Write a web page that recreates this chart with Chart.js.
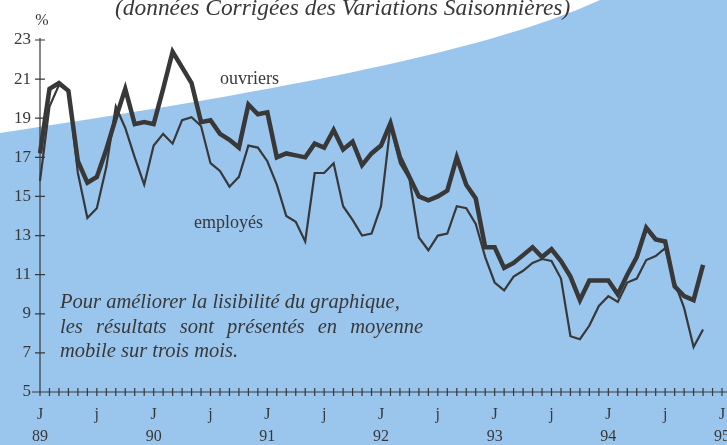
<!DOCTYPE html>
<html>
<head>
<meta charset="utf-8">
<script src="https://cdn.jsdelivr.net/npm/chart.js@4.4.1/dist/chart.umd.min.js"></script>
<style>
  html, body { margin: 0; padding: 0; background: #fff; }
</style>
</head>
<body>
<canvas id="chomage" width="727" height="445"></canvas>
<script>
// taux mensuels, janvier 1989 -> novembre 1994 (moyenne mobile sur trois mois)
var ouvriers = [
    17.2, 20.5, 20.8, 20.4, 16.8, 15.7, 16.0, 17.4, 19.0, 20.5, 18.7, 18.8,
    18.7, 20.5, 22.4, 21.6, 20.8, 18.8, 18.9, 18.2, 17.9, 17.5, 19.7, 19.2,
    19.3, 17.0, 17.2, 17.1, 17.0, 17.7, 17.5, 18.4, 17.4, 17.8, 16.6, 17.2,
    17.6, 18.75, 17.0, 16.0, 15.0, 14.8, 15.0, 15.3, 17.0, 15.6, 14.9, 12.4,
    12.4, 11.35, 11.6, 12.0, 12.4, 11.9, 12.3, 11.7, 10.9, 9.7, 10.7, 10.7,
    10.7, 10.0, 11.0, 11.9, 13.4, 12.8, 12.7, 10.4, 9.9, 9.7, 11.5
];
var employes = [
    15.8, 19.6, 20.7, 20.4, 16.2, 13.9, 14.4, 16.5, 19.6, 18.5, 17.0, 15.6,
    17.6, 18.2, 17.7, 18.9, 19.05, 18.6, 16.7, 16.3, 15.5, 16.0, 17.6, 17.5,
    16.8, 15.6, 14.0, 13.7, 12.7, 16.2, 16.2, 16.7, 14.5, 13.8, 13.0, 13.1,
    14.5, 18.65, 16.7, 15.9, 12.9, 12.25, 13.0, 13.1, 14.5, 14.4, 13.6, 11.9,
    10.6, 10.2, 10.9, 11.2, 11.6, 11.8, 11.7, 10.8, 7.85, 7.7, 8.4, 9.4,
    9.9, 9.6, 10.6, 10.8, 11.75, 11.95, 12.35, 10.6, 9.3, 7.3, 8.2
];
var years = ['89', '90', '91', '92', '93', '94', '95'];
var monthMarks = ['J', '', '', '', '', '', 'j', '', '', '', '', ''];
var yTicks = [5, 7, 9, 11, 13, 15, 17, 19, 21, 23];

// categories: un mois par case, de J 89 jusqu'a J 95
var categories = [];
for (var y = 0; y < years.length; y++) {
    for (var m = 0; m < 12; m++) {
        categories.push({ mark: monthMarks[m], year: m === 0 ? years[y] : '' });
        if (y === years.length - 1) break;
    }
}

var ink = '#383838';
var serif = '"Liberation Serif", "DejaVu Serif", serif';

const decor = {
    id: 'decor',
    beforeDraw(chart) {
        const ctx = chart.ctx;
        ctx.save();
        ctx.fillStyle = '#fff';
        ctx.fillRect(0, 0, chart.width, chart.height);
        // zone bleue
        ctx.fillStyle = '#9ac6ee';
        ctx.beginPath();
        ctx.moveTo(0, 133);
        ctx.bezierCurveTo(250, 95, 480, 55, 600, 0);
        ctx.lineTo(chart.width, 0);
        ctx.lineTo(chart.width, chart.height);
        ctx.lineTo(0, chart.height);
        ctx.closePath();
        ctx.fill();

        // titre (coupe en haut)
        ctx.fillStyle = ink;
        ctx.font = 'italic 20px ' + serif;
        var t = '(données Corrigées des Variations Saisonnières)';
        var size = 20 * 455 / ctx.measureText(t).width;
        ctx.font = 'italic ' + size.toFixed(1) + 'px ' + serif;
        ctx.textAlign = 'left';
        ctx.textBaseline = 'alphabetic';
        ctx.fillText(t, 115, 15);

        ctx.font = '16px ' + serif;
        ctx.textAlign = 'center';
        ctx.fillText('%', 42, 25);
        ctx.restore();
    },
    beforeDatasetsDraw(chart) {
        const ctx = chart.ctx;
        const xs = chart.scales.x, ys = chart.scales.y;
        const x0 = xs.getPixelForValue(0);
        const y0 = ys.getPixelForValue(5);
        ctx.save();
        ctx.strokeStyle = ink;
        ctx.lineWidth = 1.2;
        ctx.beginPath();
        ctx.moveTo(x0, ys.getPixelForValue(23) - 2);
        ctx.lineTo(x0, y0);
        ctx.moveTo(32, y0);
        ctx.lineTo(chart.width, y0);
        for (var i = 0; i < categories.length; i++) {
            var px = xs.getPixelForValue(i);
            ctx.moveTo(px, y0 - 4);
            ctx.lineTo(px, y0 + 4);
        }
        yTicks.forEach(function (v) {
            var py = ys.getPixelForValue(v);
            ctx.moveTo(x0 - 5, py);
            ctx.lineTo(x0 + 5, py);
        });
        ctx.stroke();

        ctx.fillStyle = ink;
        ctx.font = '17px ' + serif;
        ctx.textAlign = 'right';
        ctx.textBaseline = 'middle';
        yTicks.forEach(function (v) {
            ctx.fillText(String(v), 31, ys.getPixelForValue(v));
        });
        ctx.textAlign = 'center';
        ctx.font = '16px ' + serif;
        categories.forEach(function (c, i) {
            var px = xs.getPixelForValue(i);
            if (c.mark) ctx.fillText(c.mark, px, 415);
            if (c.year) ctx.fillText(c.year, px, 437);
        });
        ctx.restore();
    },
    afterDatasetsDraw(chart) {
        const ctx = chart.ctx;
        ctx.save();
        ctx.fillStyle = ink;
        ctx.textBaseline = 'alphabetic';
        ctx.textAlign = 'left';
        ctx.font = '18px ' + serif;
        ctx.fillText('ouvriers', 220, 84);
        ctx.fillText('employés', 194, 228);

        ctx.font = 'italic 20.5px ' + serif;
        ctx.fillText('Pour améliorer la lisibilité du graphique,', 60, 308);
        justify(ctx, 'les résultats sont présentés en moyenne', 60, 333, 363);
        ctx.fillText('mobile sur trois mois.', 60, 357);
        ctx.restore();
    }
};

function justify(ctx, text, x, y, width) {
    var words = text.split(' ');
    var total = 0;
    words.forEach(function (w) { total += ctx.measureText(w).width; });
    var gap = (width - total) / (words.length - 1);
    var cx = x;
    words.forEach(function (w) {
        ctx.fillText(w, cx, y);
        cx += ctx.measureText(w).width + gap;
    });
}

const chart = new Chart(document.getElementById('chomage').getContext('2d'), {
    type: 'line',
    data: {
        labels: categories.map(function (c, i) { return i; }),
        datasets: [{
            label: 'ouvriers',
            data: ouvriers,
            borderColor: ink,
            borderWidth: 4.5,
            pointRadius: 0,
            tension: 0,
            fill: false
        }, {
            label: 'employés',
            data: employes,
            borderColor: ink,
            borderWidth: 2.2,
            pointRadius: 0,
            tension: 0,
            fill: false
        }]
    },
    options: {
        responsive: false,
        devicePixelRatio: 1,
        animation: false,
        layout: { padding: { left: 40, right: 5, top: 40, bottom: 53 } },
        plugins: {
            legend: { display: false },
            tooltip: { enabled: false }
        },
        scales: {
            x: { type: 'category', display: false, offset: false },
            y: { type: 'linear', display: false, min: 5, max: 23 }
        }
    },
    plugins: [decor]
});
</script>
</body>
</html>
